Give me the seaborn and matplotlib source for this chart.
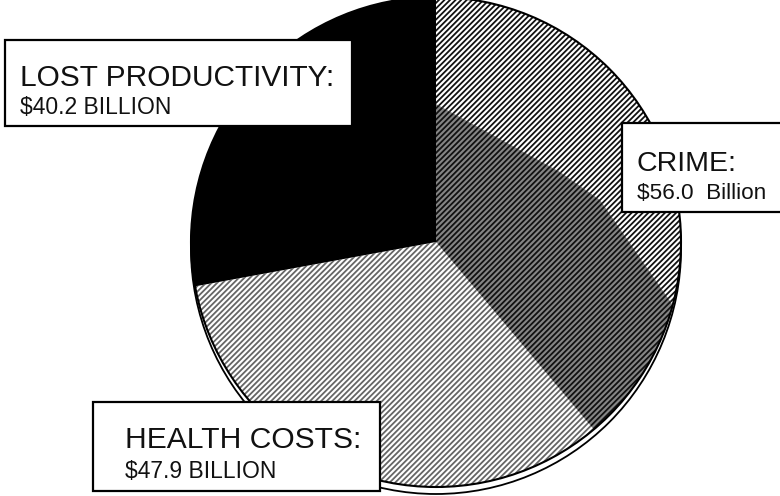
import matplotlib
matplotlib.use("Agg")
import matplotlib.pyplot as plt
from matplotlib.patches import Rectangle, Circle, Polygon
import seaborn as sns

# ---- data ----
categories = ["CRIME", "HEALTH COSTS", "LOST PRODUCTIVITY"]
values = [56.0, 47.9, 40.2]          # $ billions
value_labels = ["$56.0  Billion", "$47.9 BILLION", "$40.2 BILLION"]

sns.set_theme(style="white")
plt.rcParams['font.family'] = ['Liberation Sans', 'DejaVu Sans']
plt.rcParams['hatch.linewidth'] = 1.3

W, H = 780, 496
fig = plt.figure(figsize=(7.8, 4.96), dpi=100)
ax = fig.add_axes([0, 0, 1, 1])

def Y(py):
    return H - py

cx, cy, R = 436, Y(242), 245

# 3D base rim (decorative)
ax.add_patch(Circle((cx, cy - 7), R, facecolor="white", edgecolor="black",
                    lw=1.3, zorder=1))

face = ["white", "white", "black"]
hatch_col = ["#111111", "#666666", "black"]
hatches = ["//////", "//////", None]
wedges, _ = ax.pie(values, startangle=90, counterclock=False,
                   center=(cx, cy), radius=R, colors=face,
                   wedgeprops=dict(linewidth=0))
for w, hc, h in zip(wedges, hatch_col, hatches):
    w.set_zorder(2)
    if h:
        w.set_hatch(h)
        w.set_edgecolor(hc)
        w.set_linewidth(0)

# darker inner tone of the crime slice
pts = [(436, 242), (436, 104), (520, 150), (560, 172), (600, 200),
       (690, 330), (610, 460)]
poly = Polygon([(x, Y(y)) for x, y in pts], closed=True,
               facecolor="#858585", edgecolor="#111111", hatch="//////",
               lw=0, zorder=3)
ax.add_patch(poly)
poly.set_clip_path(wedges[0])

# pie outline
ax.add_patch(Circle((cx, cy), R, facecolor="none", edgecolor="black",
                    lw=1.5, zorder=4))

# ---- label boxes ----
def box(x0, y0, x1, y1):
    ax.add_patch(Rectangle((x0, Y(y1)), x1 - x0, y1 - y0, facecolor="white",
                           edgecolor="black", lw=1.6, zorder=5))

tc = "#111111"
box(5, 40, 352, 126)
ax.text(20, Y(86), categories[2] + ":", fontsize=21.5, ha="left",
        va="baseline", color=tc, zorder=6)
ax.text(20, Y(114), value_labels[2], fontsize=16.5, ha="left",
        va="baseline", color=tc, zorder=6)

box(622, 123, 790, 212)
ax.text(637, Y(171), categories[0] + ":", fontsize=20.5, ha="left",
        va="baseline", color=tc, zorder=6)
ax.text(637, Y(199), value_labels[0], fontsize=16.2, ha="left",
        va="baseline", color=tc, zorder=6)

box(93, 402, 380, 491)
ax.text(125, Y(448), categories[1] + ":", fontsize=21.6, ha="left",
        va="baseline", color=tc, zorder=6)
ax.text(125, Y(478), value_labels[1], fontsize=16.5, ha="left",
        va="baseline", color=tc, zorder=6)

ax.set_xlim(0, W)
ax.set_ylim(0, H)
ax.set_aspect("equal")
ax.axis("off")
fig.savefig("out.png", dpi=100, facecolor="white")
